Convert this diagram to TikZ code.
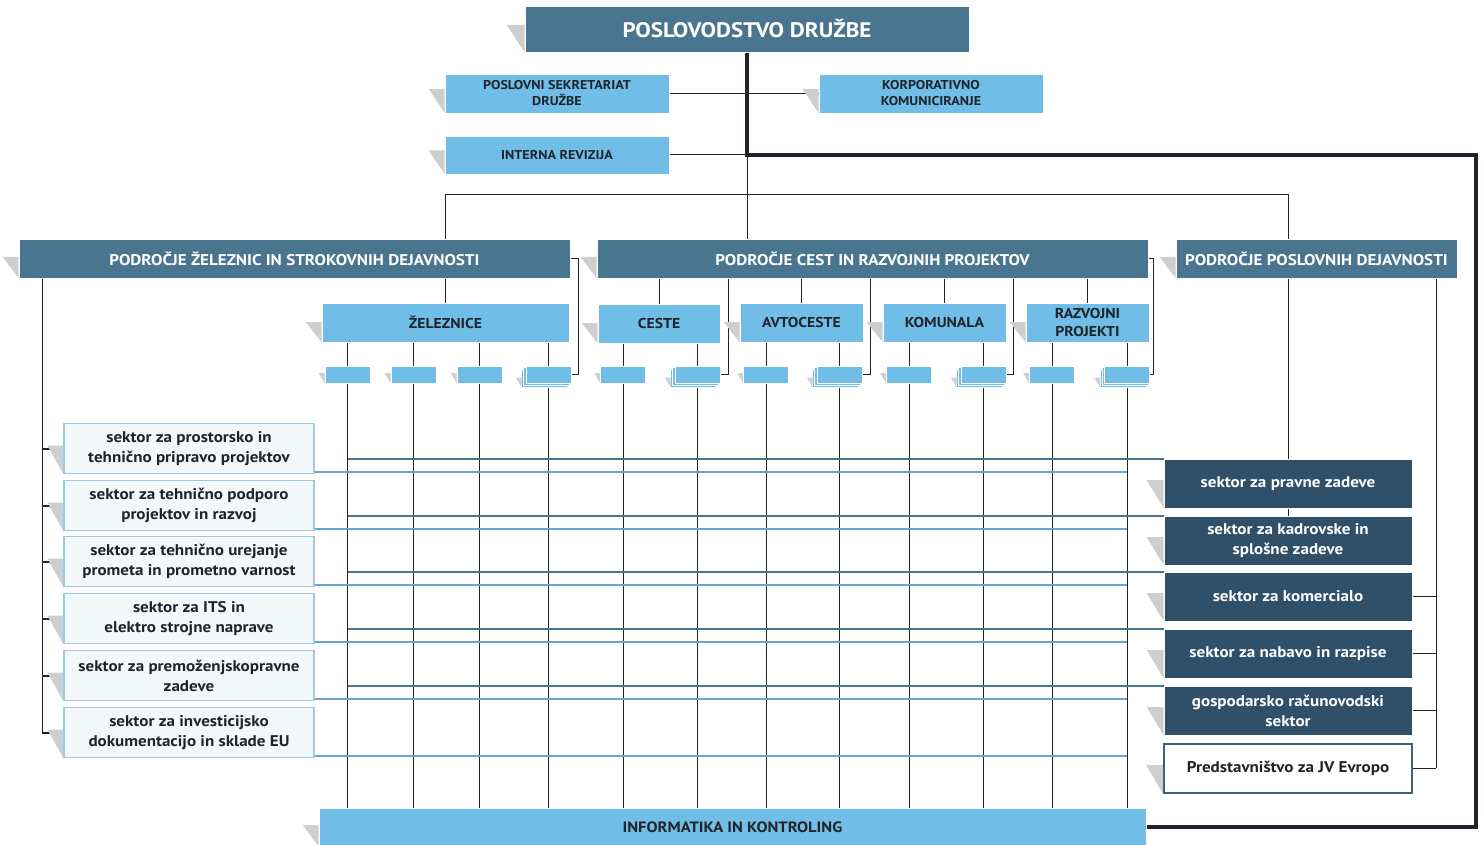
\documentclass[tikz,border=0pt]{standalone}
\usepackage{fontspec}
\setmainfont{PT Sans}[FakeStretch=1.1]
\usetikzlibrary{calc}
\pgfdeclarelayer{bg}
\pgfdeclarelayer{mid}
\pgfsetlayers{bg,mid,main}
\definecolor{slate}{RGB}{74,117,143}
\definecolor{lblue}{RGB}{112,189,232}
\definecolor{dslate}{RGB}{47,80,104}
\definecolor{pale}{RGB}{243,248,251}
\definecolor{paleb}{RGB}{160,200,224}
\definecolor{lline}{RGB}{107,164,200}
\definecolor{shd}{RGB}{206,206,206}
\definecolor{ink}{RGB}{32,36,42}
\definecolor{pbord}{RGB}{62,96,121}
\tikzset{
 box/.style={inner sep=0pt, align=center},
 slatebox/.style={box, fill=slate, text=white, draw=white, line width=0.6pt},
 lbox/.style={box, fill=lblue, text=ink, draw=white, line width=0.6pt},
 sbox/.style={box, fill=lblue, draw=white, line width=0.6pt, minimum width=45pt, minimum height=17pt},
 leftbox/.style={box, fill=pale, draw=paleb, line width=1.2pt, text=ink, minimum width=250pt, minimum height=50pt, font=\bfseries\fontsize{15.5}{20}\selectfont},
 rightbox/.style={box, fill=dslate, text=white, draw=white, line width=0.6pt, minimum width=248pt, minimum height=49pt, font=\bfseries\fontsize{15.5}{20}\selectfont},
 conn/.style={draw=ink, line width=1pt},
 tickline/.style={draw=ink, line width=2pt},
 heavy/.style={draw=ink, line width=3.5pt},
 dline/.style={draw=slate, line width=2.2pt},
 lightline/.style={draw=lline, line width=2.2pt},
}
\newcommand{\shdtri}[3]{\fill[shd] ([xshift=-#2,yshift=#3]#1.west) -- ([yshift=#3]#1.west) -- (#1.south west) -- cycle;}
\newcommand{\stacked}[1]{%
 \filldraw[fill=lblue,draw=white,line width=0.6pt] ([xshift=-4pt,yshift=-4pt]#1.south west) rectangle ([xshift=-4pt,yshift=-4pt]#1.north east);
 \filldraw[fill=lblue,draw=white,line width=0.6pt] ([xshift=-2pt,yshift=-2pt]#1.south west) rectangle ([xshift=-2pt,yshift=-2pt]#1.north east);
 \fill[shd] ([xshift=-10pt,yshift=-3pt]#1.west) -- ([xshift=-4pt,yshift=-3pt]#1.west) -- ([xshift=-4pt,yshift=-4pt]#1.south west) -- cycle;}
\begin{document}
\begin{tikzpicture}[x=1pt,y=-1pt]
\useasboundingbox (0,0) rectangle (1484,845);
% top
\node[slatebox, minimum width=444pt, minimum height=46pt, font=\bfseries\fontsize{21}{24}\selectfont] (top) at (747,29) {POSLOVODSTVO DRUŽBE};
\node[lbox, minimum width=224pt, minimum height=39pt, font=\bfseries\fontsize{12.8}{16}\selectfont] (psek) at (557,93.5) {POSLOVNI SEKRETARIAT\\DRUŽBE};
\node[lbox, minimum width=224pt, minimum height=39pt, font=\bfseries\fontsize{12.8}{16}\selectfont] (kom) at (931,93.5) {KORPORATIVNO\\KOMUNICIRANJE};
\node[lbox, minimum width=224pt, minimum height=38pt, font=\bfseries\fontsize{12.8}{16}\selectfont] (irev) at (557,155) {INTERNA REVIZIJA};
% areas
\node[slatebox, minimum width=551pt, minimum height=39pt, font=\bfseries\fontsize{15.5}{18}\selectfont] (a1) at (294.5,258.5) {PODROČJE ŽELEZNIC IN STROKOVNIH DEJAVNOSTI};
\node[slatebox, minimum width=551pt, minimum height=39pt, font=\bfseries\fontsize{15.5}{18}\selectfont] (a2) at (872.5,258.5) {PODROČJE CEST IN RAZVOJNIH PROJEKTOV};
\node[slatebox, minimum width=281pt, minimum height=39pt, font=\bfseries\fontsize{15.5}{18}\selectfont] (a3) at (1316.5,258.5) {PODROČJE POSLOVNIH DEJAVNOSTI};
% sub units
\tikzset{subbox/.style={lbox, minimum height=39pt, font=\bfseries\fontsize{14.3}{18.5}\selectfont}}
\node[subbox, minimum width=247pt] (zel) at (445.5,322.5) {ŽELEZNICE};
\node[subbox, minimum width=122pt] (ces) at (659,323.5) {CESTE};
\node[subbox, minimum width=123pt] (avt) at (801.5,322.5) {AVTOCESTE};
\node[subbox, minimum width=123pt] (kmn) at (944.5,322.5) {KOMUNALA};
\node[subbox, minimum width=123pt] (raz) at (1087.5,322.5) {RAZVOJNI\\PROJEKTI};
% small boxes
\node[sbox] (z1) at (347.5,374.5) {};
\node[sbox] (z2) at (413.5,374.5) {};
\node[sbox] (z3) at (479.5,374.5) {};
\node[sbox] (z4) at (548.5,374.5) {};
\node[sbox] (c1) at (623,374.5) {};
\node[sbox] (c2) at (697.5,374.5) {};
\node[sbox] (v1) at (766,374.5) {};
\node[sbox] (v2) at (839.5,374.5) {};
\node[sbox] (k1) at (909,374.5) {};
\node[sbox] (k2) at (983.5,374.5) {};
\node[sbox] (r1) at (1052,374.5) {};
\node[sbox] (r2) at (1127,374.5) {};
% left sectors
\node[leftbox] (l1) at (189,448.5) {sektor za prostorsko in\\tehnično pripravo projektov};
\node[leftbox] (l2) at (189,505.5) {sektor za tehnično podporo\\projektov in razvoj};
\node[leftbox] (l3) at (189,561.5) {sektor za tehnično urejanje\\prometa in prometno varnost};
\node[leftbox] (l4) at (189,618.5) {sektor za ITS in\\elektro strojne naprave};
\node[leftbox] (l5) at (189,675.5) {sektor za premoženjskopravne\\zadeve};
\node[leftbox] (l6) at (189,732.5) {sektor za investicijsko\\dokumentacijo in sklade EU};
% right sectors
\node[rightbox] (pr) at (1288,483.5) {sektor za pravne zadeve};
\node[rightbox] (kd) at (1288,540.5) {sektor za kadrovske in\\splošne zadeve};
\node[rightbox] (km) at (1288,596.5) {sektor za komercialo};
\node[rightbox] (nb) at (1288,653.5) {sektor za nabavo in razpise};
\node[rightbox] (gs) at (1288,710.5) {gospodarsko računovodski\\sektor};
\node[box, fill=white, draw=pbord, line width=2pt, text=ink, minimum width=248pt, minimum height=49pt, font=\bfseries\fontsize{15.5}{20}\selectfont] (pj) at (1288,768) {Predstavništvo za JV Evropo};
% bottom
\node[lbox, minimum width=827pt, minimum height=38pt, font=\bfseries\fontsize{15}{18}\selectfont] (inf) at (732.5,827) {INFORMATIKA IN KONTROLING};

% shadows and stacks
\begin{pgfonlayer}{mid}
\shdtri{top}{18pt}{4pt}
\shdtri{psek}{16pt}{4.5pt}
\shdtri{kom}{16pt}{4.5pt}
\shdtri{irev}{16pt}{4.5pt}
\foreach \n in {a1,a2,a3}{\shdtri{\n}{16pt}{1.5pt}}
\foreach \n in {zel,ces,avt,kmn,raz}{\shdtri{\n}{16pt}{0.5pt}}
\foreach \n in {z1,z2,z3,c1,v1,k1,r1}{\shdtri{\n}{6pt}{1.5pt}}
\foreach \n in {z4,c2,v2,k2,r2}{\stacked{\n}}
\foreach \n in {l1,l2,l3,l4,l5,l6}{\shdtri{\n}{16pt}{3pt}}
\foreach \n in {pr,kd,km,nb,gs}{\shdtri{\n}{17pt}{3.5pt}}
\shdtri{pj}{17pt}{3pt}
\shdtri{inf}{16pt}{2pt}
\end{pgfonlayer}

% connectors
\begin{pgfonlayer}{bg}
\coordinate (hb) at (0,195);
\coordinate (hr) at (1476,0);
\coordinate (lb) at (42,0);
\coordinate (rb) at (1436,0);
\coordinate (j1) at (728,0);
\coordinate (j2) at (870,0);
\coordinate (j3) at (1013,0);
\draw[conn] (top.south) -- (top.south |- a2.north);
\draw[conn] (psek.east) -- (kom.west);
\draw[conn] (irev.east) -- (irev.east -| top.south);
\draw[conn] (zel.north |- a1.north) -- (zel.north |- hb) -- (pr.north |- hb) -- (pr.north |- a3.north);
\draw[heavy] (top.south) -- (top.south |- irev.east) -- (hr |- irev.east) -- (hr |- inf.east) -- (inf.east);
% area 1
\draw[conn] (zel.north |- a1.south) -- (zel.north);
\draw[conn] (a1.east) -- ++(8,0) |- (z4.east);
\draw[conn] (lb |- a1.south) -- (lb |- l6.west);
\foreach \n in {l1,l2,l3,l4,l5,l6}{\draw[tickline] (lb |- \n.west) -- (\n.west);}
\foreach \n in {z1,z2,z3,z4}{\draw[conn] (\n.north |- zel.south) -- (\n.north);}
% area 2
\foreach \n in {ces,avt,kmn,raz}{\draw[conn] (\n.north |- a2.south) -- (\n.north);}
\draw[conn] (j1 |- a2.south) |- (c2.east);
\draw[conn] (j2 |- a2.south) |- (v2.east);
\draw[conn] (j3 |- a2.south) |- (k2.east);
\draw[conn] (a2.east) -- ++(5,0) |- (r2.east);
\draw[conn] (c1.north |- ces.south) -- (c1.north);
\draw[conn] (c2.north |- ces.south) -- (c2.north);
\draw[conn] (v1.north |- avt.south) -- (v1.north);
\draw[conn] (v2.north |- avt.south) -- (v2.north);
\draw[conn] (k1.north |- kmn.south) -- (k1.north);
\draw[conn] (k2.north |- kmn.south) -- (k2.north);
\draw[conn] (r1.north |- raz.south) -- (r1.north);
\draw[conn] (r2.north |- raz.south) -- (r2.north);
\foreach \n in {z1,z2,z3,z4,c1,c2,v1,v2,k1,k2,r1,r2}{\draw[conn] (\n.south) -- (\n.south |- inf.north);}
% area 3
\draw[conn] (pr.north |- a3.south) -- (kd.north);
\draw[conn] (rb |- a3.south) -- (rb |- pj.east);
\foreach \n in {km,nb,gs,pj}{\draw[conn] (\n.east) -- (\n.east -| rb);}
% matrix lines
\foreach \n in {pr,kd,km,nb,gs}{\draw[dline] (\n.north west -| z1.south) -- (\n.north west);}
\foreach \n in {l1,l2,l3,l4,l5,l6}{\draw[lightline] ([yshift=2.5pt]\n.south east) -- ([yshift=2.5pt]\n.south east -| r2.south);}
\end{pgfonlayer}
\end{tikzpicture}
\end{document}
